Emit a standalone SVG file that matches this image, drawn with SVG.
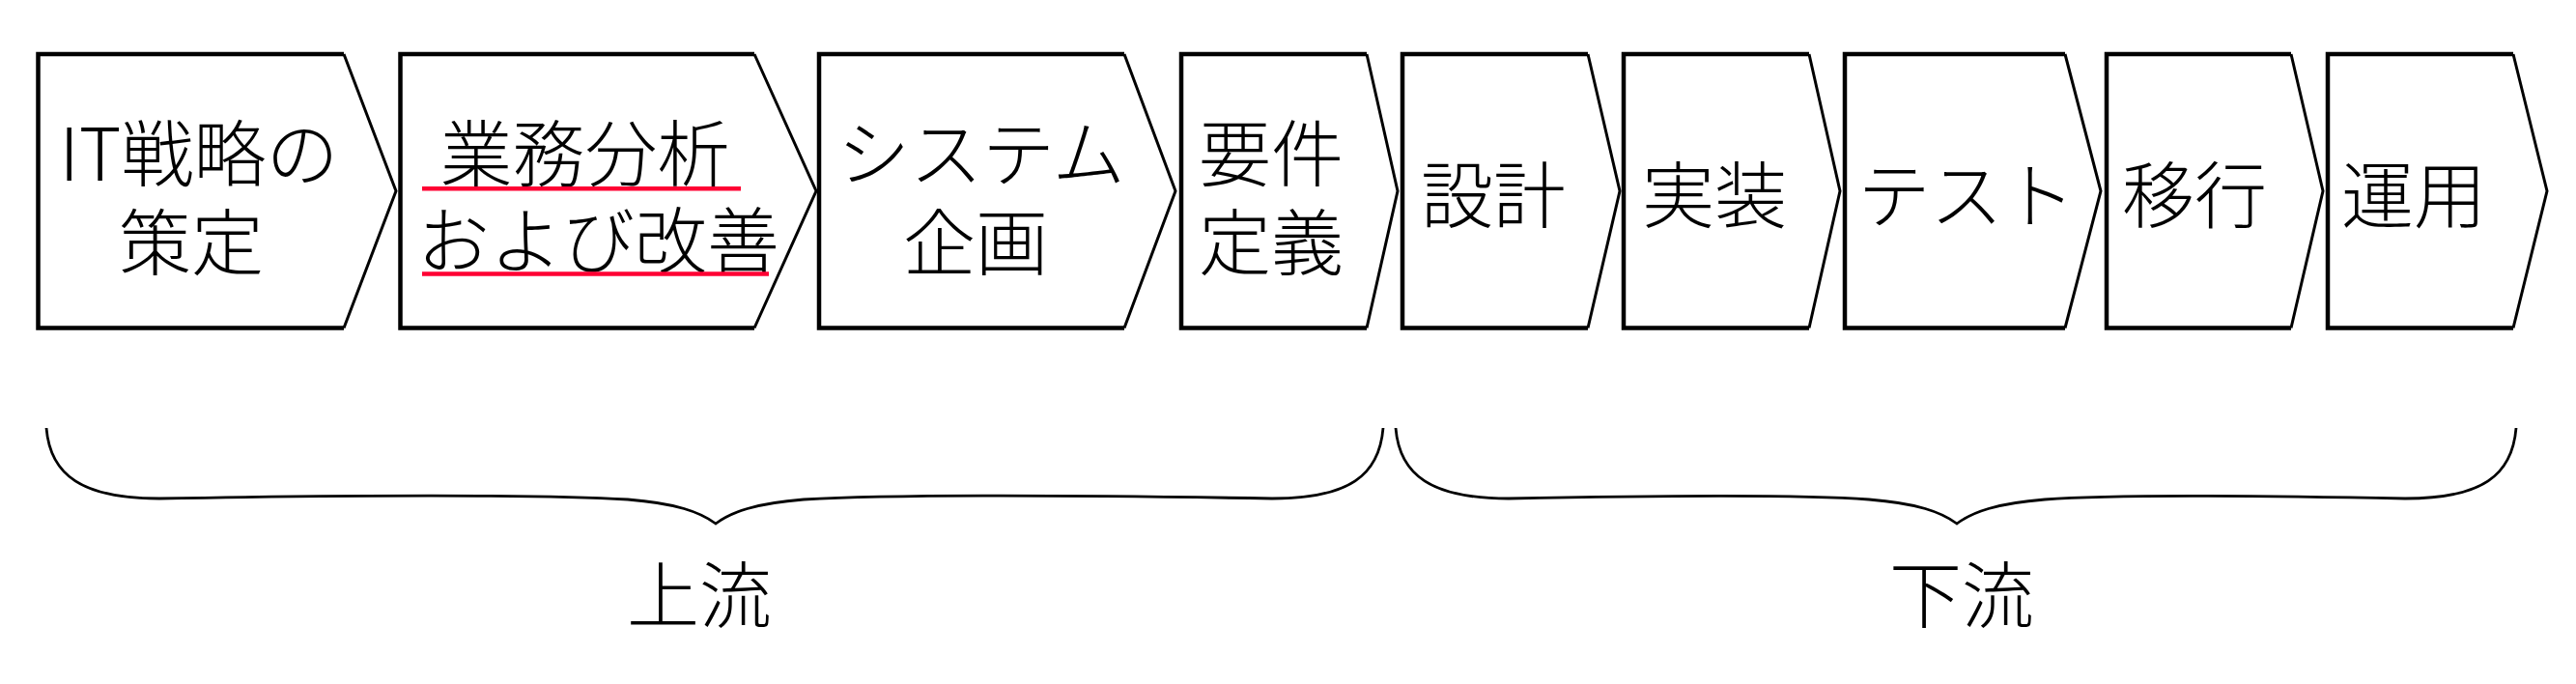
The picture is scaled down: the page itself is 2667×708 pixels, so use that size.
<svg xmlns="http://www.w3.org/2000/svg" width="2667" height="708" viewBox="0 0 2667 708">
<style>
.box{fill:#ffffff;stroke:#000000;stroke-width:4.5;stroke-linejoin:miter}
.tip{fill:none;stroke:#000000;stroke-width:3;stroke-linejoin:miter}
.t{font-family:"Noto Sans CJK JP","Noto Sans CJK SC",sans-serif;font-size:75px;font-weight:300;fill:#000000;text-anchor:middle}
.brace{fill:none;stroke:#000000;stroke-width:2.8}
.ul{stroke:#ff0033;stroke-width:4.5}
</style>
<rect width="2667" height="708" fill="#ffffff"/>
<g id="node1"><path class="box" d="M356,56 L39.5,56 L39.5,339.5 L356,339.5"/><path class="tip" d="M356,56 L410,197.75 L356,339.5"/><text class="t"><tspan x="206" y="187">IT戦略の</tspan><tspan x="198" y="279">策定</tspan></text></g>
<g id="node2"><path class="box" d="M781,56 L414.5,56 L414.5,339.5 L781,339.5"/><path class="tip" d="M781,56 L845,197.75 L781,339.5"/><text class="t"><tspan x="605.5" y="187">業務分析</tspan><tspan x="619.5" y="277">および改善</tspan></text><line class="ul" x1="437" y1="195.3" x2="767" y2="195.3"/><line class="ul" x1="437" y1="283.5" x2="796" y2="283.5"/></g>
<g id="node3"><path class="box" d="M1164,56 L848,56 L848,339.5 L1164,339.5"/><path class="tip" d="M1164,56 L1217,197.75 L1164,339.5"/><text class="t"><tspan x="1016" y="187">システム</tspan><tspan x="1010" y="279">企画</tspan></text></g>
<g id="node4"><path class="box" d="M1415,56 L1223,56 L1223,339.5 L1415,339.5"/><path class="tip" d="M1415,56 L1447,197.75 L1415,339.5"/><text class="t"><tspan x="1316" y="187">要件</tspan><tspan x="1316" y="279">定義</tspan></text></g>
<g id="node5"><path class="box" d="M1644,56 L1452,56 L1452,339.5 L1644,339.5"/><path class="tip" d="M1644,56 L1677,197.75 L1644,339.5"/><text class="t" x="1546" y="230">設計</text></g>
<g id="node6"><path class="box" d="M1873,56 L1681,56 L1681,339.5 L1873,339.5"/><path class="tip" d="M1873,56 L1905,197.75 L1873,339.5"/><text class="t" x="1775" y="230">実装</text></g>
<g id="node7"><path class="box" d="M2138,56 L1910,56 L1910,339.5 L2138,339.5"/><path class="tip" d="M2138,56 L2175,197.75 L2138,339.5"/><text class="t" x="2036" y="230">テスト</text></g>
<g id="node8"><path class="box" d="M2372,56 L2181,56 L2181,339.5 L2372,339.5"/><path class="tip" d="M2372,56 L2405,197.75 L2372,339.5"/><text class="t" x="2272" y="230">移行</text></g>
<g id="node9"><path class="box" d="M2602,56 L2410,56 L2410,339.5 L2602,339.5"/><path class="tip" d="M2602,56 L2637,197.75 L2602,339.5"/><text class="t" x="2499" y="230">運用</text></g>
<g id="connectors">
<path class="brace" d="M48,443 C52,492 85,516 165,516 C400,512 560,512 650,517 C700,521 725,530 741,542 C757,530 782,521 832,517 C922,512 1082,512 1317,516 C1397,516 1428,492 1432,443"/>
<path class="brace" d="M1445,443 C1449,492 1482,516 1562,516 C1760,512 1870,512 1935,517 C1985,521 2010,530 2026,542 C2042,530 2067,521 2117,517 C2182,512 2292,512 2490,516 C2570,516 2601,492 2605,443"/>
</g>
<g id="labels"><text class="t" x="724" y="644">上流</text><text class="t" x="2031" y="644">下流</text></g>
</svg>
